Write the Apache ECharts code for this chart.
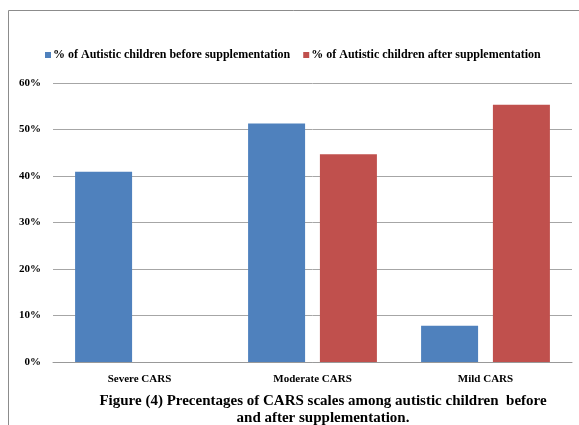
<!DOCTYPE html>
<html>
<head>
<meta charset="utf-8">
<script src="https://cdn.jsdelivr.net/npm/echarts@6/dist/echarts.min.js"></script>
<style>
  html, body { margin: 0; padding: 0; background: #fff; }
  #chart { width: 579px; height: 425px; }
</style>
</head>
<body>
<div id="chart"></div>
<script>
const categories = ["Severe CARS", "Moderate CARS", "Mild CARS"];
const seriesNames = [
  "% of Autistic children before supplementation",
  "% of Autistic children after supplementation",
];
const beforeValues = [40.9, 51.3, 7.8];
const afterValues = [0, 44.7, 55.3];
const captionLines = [
  "Figure (4) Precentages of CARS scales among autistic children  before",
  "and after supplementation.",
];

const font = "Liberation Serif";
const chart = echarts.init(document.getElementById("chart"));

const option = {
  animation: false,
  backgroundColor: "#fff",
  textStyle: { fontFamily: font },
  color: ["#4f81bd", "#c0504d"],
  legend: {
    top: 44,
    left: 40,
    itemWidth: 6,
    itemHeight: 6,
    itemGap: 13,
    icon: "rect",
    textStyle: {
      fontFamily: font, fontWeight: "bold", fontSize: 12, color: "#000",
      padding: [0, 0, 0, -3],
    },
    data: seriesNames,
  },
  grid: { left: 53, right: 7, top: 83, bottom: 63 },
  xAxis: {
    type: "category",
    data: categories,
    axisTick: { show: false },
    axisLine: { lineStyle: { color: "#999" } },
    axisLabel: { fontFamily: font, fontWeight: "bold", fontSize: 11, color: "#000", margin: 12 },
  },
  yAxis: {
    type: "value",
    min: 0,
    max: 60,
    interval: 10,
    axisLine: { show: false },
    axisTick: { show: false },
    splitLine: { lineStyle: { color: "#a6a6a6" } },
    axisLabel: {
      fontFamily: font, fontWeight: "bold", fontSize: 11, color: "#000", margin: 12,
      formatter: "{value}%",
    },
  },
  series: [
    { name: seriesNames[0], type: "bar", data: beforeValues, barWidth: 57, barGap: "26%" },
    { name: seriesNames[1], type: "bar", data: afterValues, barWidth: 57 },
  ],
  graphic: [
    {
      type: "polyline",
      shape: { points: [[8.5, 425], [8.5, 10.5], [579, 10.5]] },
      style: { stroke: "#8c8c8c", lineWidth: 1, fill: null },
    },
    {
      type: "text",
      x: 323,
      y: 393,
      style: {
        text: captionLines.join("\n"),
        textAlign: "center",
        font: "bold 15px " + font,
        lineHeight: 17,
        fill: "#000",
      },
    },
  ],
};

chart.setOption(option);
</script>
</body>
</html>
